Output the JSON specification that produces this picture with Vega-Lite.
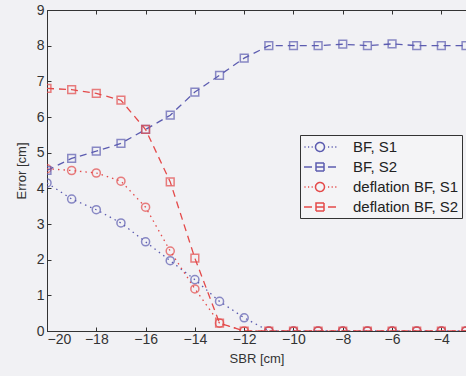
{
  "$schema": "https://vega.github.io/schema/vega-lite/v6.json",
  "width": 419,
  "height": 321,
  "autosize": {"type": "none"},
  "padding": {"left": 47, "top": 10, "right": 0, "bottom": 45},
  "background": "#f1f1f4",
  "config": {
    "view": {"stroke": "#333333", "strokeWidth": 1},
    "font": "Liberation Sans",
    "axis": {"grid": false, "domainColor": "#333333", "tickColor": "#333333", "tickSize": -4, "labelFontSize": 14, "labelColor": "#333333", "titleColor": "#333333", "titleFontWeight": "normal", "titleFontSize": 13, "labelPadding": 5}
  },
  "data": {"values": [
    {"x": -20, "y": 4.15, "s": "BF, S1"}, {"x": -19, "y": 3.7, "s": "BF, S1"}, {"x": -18, "y": 3.4, "s": "BF, S1"}, {"x": -17, "y": 3.03, "s": "BF, S1"}, {"x": -16, "y": 2.5, "s": "BF, S1"}, {"x": -15, "y": 1.97, "s": "BF, S1"}, {"x": -14, "y": 1.44, "s": "BF, S1"}, {"x": -13, "y": 0.83, "s": "BF, S1"}, {"x": -12, "y": 0.37, "s": "BF, S1"}, {"x": -11, "y": 0, "s": "BF, S1"}, {"x": -10, "y": 0, "s": "BF, S1"}, {"x": -9, "y": 0, "s": "BF, S1"}, {"x": -8, "y": 0, "s": "BF, S1"}, {"x": -7, "y": 0, "s": "BF, S1"}, {"x": -6, "y": 0, "s": "BF, S1"}, {"x": -5, "y": 0, "s": "BF, S1"}, {"x": -4, "y": 0, "s": "BF, S1"}, {"x": -3, "y": 0, "s": "BF, S1"},
    {"x": -20, "y": 4.5, "s": "BF, S2"}, {"x": -19, "y": 4.84, "s": "BF, S2"}, {"x": -18, "y": 5.04, "s": "BF, S2"}, {"x": -17, "y": 5.26, "s": "BF, S2"}, {"x": -16, "y": 5.65, "s": "BF, S2"}, {"x": -15, "y": 6.05, "s": "BF, S2"}, {"x": -14, "y": 6.7, "s": "BF, S2"}, {"x": -13, "y": 7.17, "s": "BF, S2"}, {"x": -12, "y": 7.65, "s": "BF, S2"}, {"x": -11, "y": 8.0, "s": "BF, S2"}, {"x": -10, "y": 8.0, "s": "BF, S2"}, {"x": -9, "y": 8.0, "s": "BF, S2"}, {"x": -8, "y": 8.04, "s": "BF, S2"}, {"x": -7, "y": 8.0, "s": "BF, S2"}, {"x": -6, "y": 8.05, "s": "BF, S2"}, {"x": -5, "y": 8.0, "s": "BF, S2"}, {"x": -4, "y": 8.0, "s": "BF, S2"}, {"x": -3, "y": 8.0, "s": "BF, S2"},
    {"x": -20, "y": 4.55, "s": "deflation BF, S1"}, {"x": -19, "y": 4.5, "s": "deflation BF, S1"}, {"x": -18, "y": 4.43, "s": "deflation BF, S1"}, {"x": -17, "y": 4.2, "s": "deflation BF, S1"}, {"x": -16, "y": 3.47, "s": "deflation BF, S1"}, {"x": -15, "y": 2.24, "s": "deflation BF, S1"}, {"x": -14, "y": 1.18, "s": "deflation BF, S1"}, {"x": -13, "y": 0.22, "s": "deflation BF, S1"}, {"x": -12, "y": 0, "s": "deflation BF, S1"}, {"x": -11, "y": 0, "s": "deflation BF, S1"}, {"x": -10, "y": 0, "s": "deflation BF, S1"}, {"x": -9, "y": 0, "s": "deflation BF, S1"}, {"x": -8, "y": 0, "s": "deflation BF, S1"}, {"x": -7, "y": 0, "s": "deflation BF, S1"}, {"x": -6, "y": 0, "s": "deflation BF, S1"}, {"x": -5, "y": 0, "s": "deflation BF, S1"}, {"x": -4, "y": 0, "s": "deflation BF, S1"}, {"x": -3, "y": 0, "s": "deflation BF, S1"},
    {"x": -20, "y": 6.8, "s": "deflation BF, S2"}, {"x": -19, "y": 6.77, "s": "deflation BF, S2"}, {"x": -18, "y": 6.66, "s": "deflation BF, S2"}, {"x": -17, "y": 6.47, "s": "deflation BF, S2"}, {"x": -16, "y": 5.65, "s": "deflation BF, S2"}, {"x": -15, "y": 4.18, "s": "deflation BF, S2"}, {"x": -14, "y": 2.04, "s": "deflation BF, S2"}, {"x": -13, "y": 0.22, "s": "deflation BF, S2"}, {"x": -12, "y": 0, "s": "deflation BF, S2"}, {"x": -11, "y": 0, "s": "deflation BF, S2"}, {"x": -10, "y": 0, "s": "deflation BF, S2"}, {"x": -9, "y": 0, "s": "deflation BF, S2"}, {"x": -8, "y": 0, "s": "deflation BF, S2"}, {"x": -7, "y": 0, "s": "deflation BF, S2"}, {"x": -6, "y": 0, "s": "deflation BF, S2"}, {"x": -5, "y": 0, "s": "deflation BF, S2"}, {"x": -4, "y": 0, "s": "deflation BF, S2"}, {"x": -3, "y": 0, "s": "deflation BF, S2"}
  ]},
  "encoding": {
    "x": {"field": "x", "type": "quantitative", "scale": {"domain": [-20, -3], "nice": false, "zero": false}, "axis": {"values": [-20, -18, -16, -14, -12, -10, -8, -6, -4], "title": "SBR [cm]", "titlePadding": 6}},
    "y": {"field": "y", "type": "quantitative", "scale": {"domain": [0, 9], "nice": false}, "axis": {"values": [0, 1, 2, 3, 4, 5, 6, 7, 8, 9], "title": "Error [cm]", "titlePadding": 8, "labelPadding": 7}},
    "color": {"field": "s", "type": "nominal", "scale": {"domain": ["BF, S1", "BF, S2", "deflation BF, S1", "deflation BF, S2"], "range": ["#5c5cb0", "#5c5cb0", "#e44a4a", "#e44a4a"]}, "legend": {"title": null, "orient": "none", "legendX": 253, "legendY": 125, "strokeColor": "#333333", "fillColor": "#f4f4f6", "padding": 3, "labelFontSize": 15, "labelColor": "#222222", "symbolSize": 256, "symbolStrokeWidth": 1.5, "symbolOpacity": 1, "rowPadding": 3, "labelOffset": 32, "encode": {"symbols": {"update": {"strokeDash": {"value": [1, 0]}, "opacity": {"value": 1}}}}}}
  },
  "layer": [
    {
      "layer": [
        {
          "transform": [{"filter": {"field": "s", "oneOf": ["BF, S1", "deflation BF, S1"]}}],
          "mark": {"type": "line", "strokeWidth": 1.3, "strokeDash": [1.5, 4], "clip": true},
          "encoding": {"detail": {"field": "s"}}
        },
        {
          "transform": [{"filter": {"field": "s", "oneOf": ["BF, S2", "deflation BF, S2"]}}],
          "mark": {"type": "line", "strokeWidth": 1.3, "strokeDash": [7, 5], "clip": true},
          "encoding": {"detail": {"field": "s"}}
        },
        {
          "transform": [{"filter": {"field": "s", "oneOf": ["BF, S1", "deflation BF, S1"]}}],
          "mark": {"type": "point", "shape": "circle", "filled": false, "size": 65, "strokeWidth": 1.5, "clip": true}
        },
        {
          "transform": [{"filter": {"field": "s", "oneOf": ["BF, S2", "deflation BF, S2"]}}],
          "mark": {"type": "point", "shape": "square", "filled": false, "size": 60, "strokeWidth": 1.5, "clip": true}
        }
      ]
    },
    {
      "mark": {"type": "point", "filled": false, "opacity": 0, "size": 256, "strokeWidth": 1.5},
      "encoding": {
        "x": {"field": "x", "type": "quantitative", "axis": {"orient": "top", "labels": false, "title": null, "values": [-20, -18, -16, -14, -12, -10, -8, -6, -4], "domain": false}},
        "shape": {"field": "s", "type": "nominal", "scale": {"domain": ["BF, S1", "BF, S2", "deflation BF, S1", "deflation BF, S2"], "range": [
          "M-0.95,0h0.15M-0.5,0h0.15M-0.05,0h0.15M1.56,0A0.56,0.56 0 1,1 0.44,0A0.56,0.56 0 1,1 1.56,0M2,0h0.15M2.45,0h0.15M2.9,0h0.15",
          "M-1,0H0M0.5,-0.5H1.5V0.5H0.5ZM0.5,0H1.5M2,0H3",
          "M-0.95,0h0.15M-0.5,0h0.15M-0.05,0h0.15M1.56,0A0.56,0.56 0 1,1 0.44,0A0.56,0.56 0 1,1 1.56,0M2,0h0.15M2.45,0h0.15M2.9,0h0.15",
          "M-1,0H0M0.5,-0.5H1.5V0.5H0.5ZM0.5,0H1.5M2,0H3"
        ]}, "legend": {"title": null, "orient": "none", "legendX": 253, "legendY": 125, "strokeColor": "#333333", "fillColor": "#f4f4f6", "padding": 3, "labelFontSize": 15, "labelColor": "#222222", "symbolSize": 256, "symbolStrokeWidth": 1.5, "symbolOpacity": 1, "rowPadding": 3, "labelOffset": 32, "encode": {"symbols": {"update": {"strokeDash": {"value": [1, 0]}, "opacity": {"value": 1}}}}}}
      }
    }
  ],
  "resolve": {"axis": {"x": "independent"}}
}
